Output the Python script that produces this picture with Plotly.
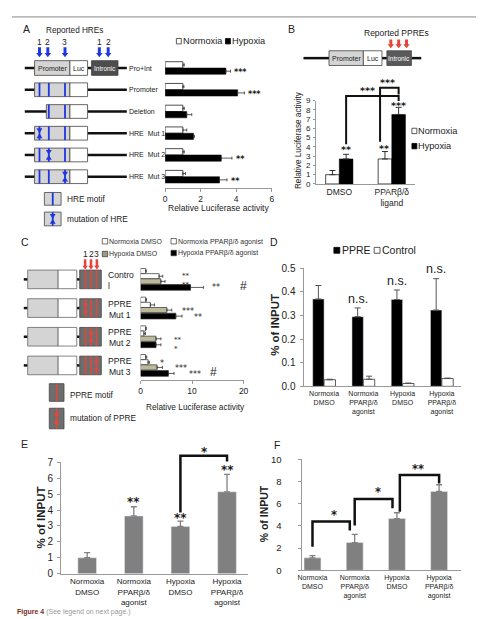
import plotly.graph_objects as go

W, H = 484, 619
FONT = "Liberation Sans, Arial, Helvetica, sans-serif"
STAR_FONT = "DejaVu Sans, Liberation Sans, sans-serif"

# ---------------- data ----------------
a_constructs = ["Pro+Int", "Promoter", "Deletion", "HRE  Mut 1", "HRE  Mut 2", "HRE  Mut 3"]
a_normoxia = [1.0, 1.0, 1.0, 1.0, 1.0, 1.0]
a_normoxia_err = [0.08, 0.06, 0.08, 0.22, 0.08, 0.15]
a_hypoxia = [3.42, 4.08, 1.22, 1.6, 3.16, 3.06]
a_hypoxia_err = [0.26, 0.38, 0.28, 0.05, 0.6, 0.42]
a_sig = ["***", "***", "", "", "**", "**"]
a_ticks = [0, 2, 4, 6]

b_treatments = ["DMSO", "PPARβ/δ<br>ligand"]
b_normoxia = [1.0, 2.7]
b_normoxia_err = [0.45, 0.8]
b_hypoxia = [2.7, 7.5]
b_hypoxia_err = [0.5, 0.77]
b_sig_normoxia = ["", "**"]
b_sig_hypoxia = ["**", "***"]
b_ticks = list(range(10))

c_constructs = ["Control", "PPRE Mut 1", "PPRE Mut 2", "PPRE Mut 3"]
c_labels = ["Contro<br>l", "PPRE<br>Mut 1", "PPRE<br>Mut 2", "PPRE<br>Mut 3"]
c_norm_dmso = [1.0, 1.0, 1.0, 1.0]
c_norm_dmso_err = [0.1, 0.15, 0.1, 0.2]
c_norm_ago = [3.6, 1.9, 0.65, 1.45]
c_norm_ago_err = [0.7, 0.8, 0.3, 0.3]
c_hyp_dmso = [3.95, 5.1, 3.0, 3.2]
c_hyp_dmso_err = [0.8, 0.95, 0.95, 1.05]
c_hyp_ago = [9.7, 6.85, 3.0, 5.4]
c_hyp_ago_err = [2.5, 1.2, 0.95, 1.1]
c_ticks = [0, 10, 20]

d_groups = ["Normoxia<br>DMSO", "Normoxia<br>PPARβ/δ<br>agonist", "Hypoxia<br>DMSO", "Hypoxia<br>PPARβ/δ<br>agonist"]
d_ppre = [0.37, 0.295, 0.368, 0.323]
d_ppre_err = [0.057, 0.037, 0.04, 0.133]
d_control = [0.028, 0.03, 0.012, 0.033]
d_control_err = [0.002, 0.013, 0.002, 0.002]
d_sig = ["", "n.s.", "n.s.", "n.s."]
d_ticks = [0, 0.1, 0.2, 0.3, 0.4, 0.5]

e_groups = d_groups
e_values = [1.0, 3.63, 2.97, 5.15]
e_err = [0.32, 0.58, 0.33, 1.1]
e_sig = ["", "**", "**", "**"]
e_ticks = list(range(8))

f_groups = d_groups
f_values = [1.12, 2.5, 4.66, 7.1]
f_err = [0.2, 0.74, 0.52, 0.6]
f_ticks = [0, 2, 4, 6, 8, 10]

# ---------------- geometry helpers ----------------
def X(px):
    return px / W

def Y(py):
    return 1 - py / H

GEO = {
    "A": dict(x=(156, 264.7), y=(44, 177), xr=(0, 6), yr=(-0.5, 5.5)),
    "B": dict(x=(309.7, 410.8), y=(88.3, 173.3), xr=(-0.445, 1.445), yr=(0, 9)),
    "C": dict(x=(131, 236), y=(256, 373), xr=(0, 20), yr=(-0.5, 3.5)),
    "D": dict(x=(298, 458), y=(259.3, 379.7), xr=(-0.5, 3.5), yr=(0, 0.5)),
    "E": dict(x=(50, 240), y=(457.3, 570.7), xr=(-0.56, 3.44), yr=(0, 7)),
    "F": dict(x=(295, 458), y=(454, 567.3), xr=(-0.26, 3.53), yr=(0, 10)),
}

def gx(p, v):
    (a, b), (r0, r1) = GEO[p]["x"], GEO[p]["xr"]
    return a + (v - r0) / (r1 - r0) * (b - a)

def gy(p, v):
    (t, bt), (r0, r1) = GEO[p]["y"], GEO[p]["yr"]
    return bt - (v - r0) / (r1 - r0) * (bt - t)

shapes, annotations = [], []

def txt(x, y, s, size=8, xa="center", ya="middle", color="#222", angle=0, align="center", family=FONT):
    annotations.append(dict(x=X(x), y=Y(y), xref="paper", yref="paper", text=s,
                            showarrow=False, xanchor=xa, yanchor=ya, align=align,
                            textangle=angle, borderpad=0,
                            font=dict(size=size, color=color, family=family)))

def star(x, yv, s, size=9, xa="center", align="center", bold=True):
    # yv = visual centre of the (first line of) asterisks
    nlines = s.count("<br>") + 1
    mid = yv + 0.25 * size + (nlines - 1) * 0.65 * size
    t = f"<b>{s}</b>" if bold else s
    txt(x, mid, t, size=size, xa=xa, color="#1a1a1a", family=STAR_FONT, align=align)

def rect(x0, y0, x1, y1, fill, line="#444", lw=0.8):
    shapes.append(dict(type="rect", xref="paper", yref="paper", x0=X(x0), x1=X(x1),
                       y0=Y(y1), y1=Y(y0), fillcolor=fill, line=dict(color=line, width=lw),
                       layer="above"))

def seg(x0, y0, x1, y1, color="#111", lw=2.5):
    shapes.append(dict(type="line", xref="paper", yref="paper", x0=X(x0), x1=X(x1),
                       y0=Y(y0), y1=Y(y1), line=dict(color=color, width=lw), layer="above"))

def poly(pts, fill, closed=True, lw=0, color=None):
    d = "M " + " L ".join(f"{X(a):.5f},{Y(b):.5f}" for a, b in pts) + (" Z" if closed else "")
    shapes.append(dict(type="path", xref="paper", yref="paper", path=d,
                       fillcolor=fill if closed else "rgba(0,0,0,0)",
                       line=dict(color=color or fill, width=lw), layer="above"))

def down_arrow(x, y0, y1, color, sw=1.5, hw=3.3, hh=4.2):
    poly([(x - sw, y0), (x + sw, y0), (x + sw, y1 - hh), (x + hw, y1 - hh), (x, y1),
          (x - hw, y1 - hh), (x - sw, y1 - hh)], color)

def bowtie(x, yc, color, hw=3.0, hh=5.0):
    poly([(x - hw, yc - hh), (x + hw, yc - hh), (x - hw, yc + hh), (x + hw, yc + hh)], color)

def bracket(xa, ya, xb, yb, ytop, lw=2.5):
    poly([(xa, ya), (xa, ytop), (xb, ytop), (xb, yb)], None, closed=False, lw=lw, color="#111")

BLUE = "#1f36e0"
RED = "#e5463b"
LGRAY = "#d4d4d4"

# ---------------- traces ----------------
fig = go.Figure()

def err(arr, color="#333", th=0.8, w=1.5):
    return dict(type="data", array=arr, arrayminus=[0] * len(arr), symmetric=False,
                color=color, thickness=th, width=w)

# A
fig.add_bar(y=a_constructs, x=a_normoxia, orientation="h", xaxis="x", yaxis="y",
            width=0.29, offset=0.0, marker=dict(color="white", line=dict(color="#222", width=0.8)),
            error_x=err(a_normoxia_err), name="Normoxia")
fig.add_bar(y=a_constructs, x=a_hypoxia, orientation="h", xaxis="x", yaxis="y",
            width=0.29, offset=-0.29, marker=dict(color="black", line=dict(color="#000", width=0.5)),
            error_x=err(a_hypoxia_err), name="Hypoxia")
# B
BW = 0.26
fig.add_bar(x=b_treatments, y=b_normoxia, xaxis="x2", yaxis="y2", width=BW, offset=-BW,
            marker=dict(color="white", line=dict(color="#222", width=0.8)),
            error_y=err(b_normoxia_err, th=1, w=3), name="Normoxia")
fig.add_bar(x=b_treatments, y=b_hypoxia, xaxis="x2", yaxis="y2", width=BW, offset=0.0,
            marker=dict(color="black", line=dict(color="#000", width=0.5)),
            error_y=err(b_hypoxia_err, th=1, w=3), name="Hypoxia")
# C
c_series = [
    (c_norm_dmso, c_norm_dmso_err, "white", 0.20, 0.18, "Normoxia DMSO"),
    (c_norm_ago, c_norm_ago_err, "white", 0.02, 0.18, "Normoxia PPARβ/δ agonist"),
    (c_hyp_dmso, c_hyp_dmso_err, "#bdb99c", -0.16, 0.18, "Hypoxia DMSO"),
    (c_hyp_ago, c_hyp_ago_err, "black", -0.38, 0.20, "Hypoxia PPARβ/δ agonist"),
]
for vals, errs, col, off, wd, nm in c_series:
    fig.add_bar(y=c_constructs, x=vals, orientation="h", xaxis="x3", yaxis="y3", width=wd,
                offset=off, marker=dict(color=col, line=dict(color="#333", width=0.7)),
                error_x=err(errs), name=nm)
# D
fig.add_bar(x=d_groups, y=d_ppre, xaxis="x4", yaxis="y4", width=0.29, offset=-0.29,
            marker=dict(color="black"), error_y=err(d_ppre_err, "#555", 1, 3), name="PPRE")
fig.add_bar(x=d_groups, y=d_control, xaxis="x4", yaxis="y4", width=0.29, offset=0.0,
            marker=dict(color="white", line=dict(color="#333", width=0.8)),
            error_y=err(d_control_err, "#555", 1, 3), name="Control")
# E, F
fig.add_bar(x=e_groups, y=e_values, xaxis="x5", yaxis="y5", width=0.4, offset=-0.2,
            marker=dict(color="#808080"), error_y=err(e_err, "#808080", 1.3, 3))
fig.add_bar(x=f_groups, y=f_values, xaxis="x6", yaxis="y6", width=0.4, offset=-0.2,
            marker=dict(color="#808080"), error_y=err(f_err, "#808080", 1.3, 3))

# ---------------- axes ----------------
def dom_x(p):
    return [X(GEO[p]["x"][0]), X(GEO[p]["x"][1])]

def dom_y(p):
    return [Y(GEO[p]["y"][1]), Y(GEO[p]["y"][0])]

def tf(size):
    return dict(size=size, color="#222", family=FONT)

base = dict(showgrid=False, zeroline=False, linecolor="#999", linewidth=1, tickcolor="#999")
lay = {}
# A
lay["xaxis"] = dict(base, domain=dom_x("A"), range=list(GEO["A"]["xr"]), anchor="y", showline=True,
                    ticks="outside", ticklen=3, tickvals=a_ticks, tickfont=tf(8.5))
lay["yaxis"] = dict(base, domain=dom_y("A"), type="category", categoryorder="array",
                    categoryarray=a_constructs[::-1], range=list(GEO["A"]["yr"]), anchor="x",
                    showline=False, showticklabels=False)
# B
lay["xaxis2"] = dict(base, domain=dom_x("B"), type="category", range=list(GEO["B"]["xr"]),
                     anchor="y2", showline=True, ticks="", tickfont=tf(8.5))
lay["yaxis2"] = dict(base, domain=dom_y("B"), range=list(GEO["B"]["yr"]), anchor="x2", showline=True,
                     ticks="outside", ticklen=2, tickvals=b_ticks, ticklabelstandoff=1,
                     tickfont=tf(8))
# C
lay["xaxis3"] = dict(base, domain=dom_x("C"), range=list(GEO["C"]["xr"]), anchor="y3", showline=True,
                     ticks="outside", ticklen=3, tickvals=c_ticks, tickfont=tf(8.5))
lay["yaxis3"] = dict(base, domain=dom_y("C"), type="category", categoryorder="array",
                     categoryarray=c_constructs[::-1], range=list(GEO["C"]["yr"]), anchor="x3",
                     showline=False, showticklabels=False)
# D
lay["xaxis4"] = dict(base, domain=dom_x("D"), type="category", range=list(GEO["D"]["xr"]),
                     anchor="y4", showline=True, ticks="", tickfont=tf(7))
lay["yaxis4"] = dict(base, domain=dom_y("D"), range=list(GEO["D"]["yr"]), anchor="x4", showline=True,
                     ticks="outside", ticklen=3, tickvals=d_ticks, tickformat=".1f",
                     ticklabelstandoff=3, tickfont=tf(10))
# E
lay["xaxis5"] = dict(base, domain=dom_x("E"), type="category", range=list(GEO["E"]["xr"]),
                     anchor="y5", showline=True, ticks="", tickfont=tf(8))
lay["yaxis5"] = dict(base, domain=dom_y("E"), range=list(GEO["E"]["yr"]), anchor="x5", showline=True,
                     ticks="outside", ticklen=3, tickvals=e_ticks, ticklabelstandoff=2,
                     tickfont=tf(10))
# F
lay["xaxis6"] = dict(base, domain=dom_x("F"), type="category", range=list(GEO["F"]["xr"]),
                     anchor="y6", showline=True, ticks="", tickfont=tf(7))
lay["yaxis6"] = dict(base, domain=dom_y("F"), range=list(GEO["F"]["yr"]), anchor="x6", showline=True,
                     ticks="outside", ticklen=3, tickvals=f_ticks, ticklabelstandoff=14,
                     tickfont=tf(9.5))

# ---------------- frame & panel letters ----------------
poly([(0, 3), (474, 3), (478, 3.5), (480.5, 6), (481, 10), (481, 619)], None, closed=False,
     lw=1, color="#888")
for letter, (lx, ly) in {"A": (15, 15), "B": (285, 15), "C": (13, 232), "D": (267, 232),
                         "E": (13, 438), "F": (270, 440)}.items():
    txt(lx, ly, letter, size=10.5)

# ---------------- panel A diagram ----------------
txt(64, 17, "Reported HREs", size=8.2)
for n, x in zip(["1", "2", "3", "1", "2"], [28, 36.5, 54, 89, 98]):
    txt(x, 28.5, n, size=8.5)
    down_arrow(x, 34, 44, BLUE)

a_rows = [gy("A", len(a_constructs) - 1 - i) for i in range(len(a_constructs))]
motifs = [28, 37.5, 54]
for i, yc in enumerate(a_rows):
    h = 7.5 if i == 0 else 7
    if i == 0:
        seg(13, yc, 23, yc); seg(77, yc, 81, yc); seg(108, yc, 117, yc)
        rect(23, yc - h, 59, yc + h, LGRAY)
        rect(59, yc - h, 77, yc + h, "white")
        rect(81, yc - h, 108, yc + h, "#4d4d4d")
        txt(41, yc, "Promoter", size=7)
        txt(68, yc, "Luc", size=7)
        txt(94.5, yc, "Intronic", size=6.5, color="white")
    else:
        start = 35 if i == 2 else 23
        seg(13, yc, start, yc); seg(77, yc, 117, yc)
        rect(start, yc - h, 59, yc + h, LGRAY)
        rect(59, yc - h, 77, yc + h, "white")
        for m in motifs:
            if m > start:
                seg(m, yc - h, m, yc + h, BLUE, 1.8)
        if i >= 3:
            bowtie(motifs[i - 3], yc, BLUE)
    txt(118, yc, a_constructs[i], size=7, xa="left")

rect(33, 182, 50, 195, LGRAY); seg(41.5, 182, 41.5, 195, BLUE, 1.8)
txt(55, 189, "HRE motif", size=8.3, xa="left")
rect(33, 202, 50, 216, LGRAY); seg(41.5, 202, 41.5, 216, BLUE, 1.8); bowtie(41.5, 209, BLUE)
txt(55, 209, "mutation of HRE", size=8.3, xa="left")

# A legend + stars + axis title
rect(167.5, 25, 172.5, 30.5, "white", "#333"); txt(173, 28, "Normoxia", size=9.2, xa="left")
rect(217.5, 25, 222.5, 30.5, "black", "#000"); txt(223, 28, "Hypoxia", size=9.2, xa="left")
for i, s in enumerate(a_sig):
    if s:
        star(gx("A", a_hypoxia[i] + a_hypoxia_err[i]) + 3, a_rows[i] + 3, s, size=8, xa="left")
txt(210, 198, "Relative Luciferase activity", size=8.5)

# ---------------- panel B ----------------
txt(392, 19, "Reported PPREs", size=8.5)
for x in [386, 394, 402]:
    down_arrow(x, 26, 35, RED)
seg(297, 45, 323, 45); seg(377, 45, 382, 45); seg(407, 45, 417, 45)
rect(323, 37.5, 358, 52.5, LGRAY); rect(358, 37.5, 377, 52.5, "white"); rect(382, 37.5, 407, 52.5, "#5a5a5a")
txt(340.5, 45, "Promoter", size=7); txt(367.5, 45, "Luc", size=7)
txt(394.5, 45, "Intronic", size=6.5, color="white")

b_cx = [[gx("B", j - BW / 2) for j in range(2)], [gx("B", j + BW / 2) for j in range(2)]]
b_top_n = [gy("B", v + e) for v, e in zip(b_normoxia, b_normoxia_err)]
b_top_h = [gy("B", v + e) for v, e in zip(b_hypoxia, b_hypoxia_err)]
b_off_n = [0, 5.0]
b_off_h = [7.0, 4.2]
for j in range(2):
    if b_sig_normoxia[j]:
        star(b_cx[0][j] - 1, b_top_n[j] - b_off_n[j], b_sig_normoxia[j], size=9.5)
    if b_sig_hypoxia[j]:
        star(b_cx[1][j], b_top_h[j] - b_off_h[j], b_sig_hypoxia[j], size=9.5)
# long bracket: DMSO hypoxia -> ligand hypoxia
bracket(b_cx[1][0], b_top_h[0] - 10.3, b_cx[1][1], b_top_h[1] - 6.6, b_top_h[1] - 11.6, lw=2)
# short bracket: ligand normoxia -> ligand hypoxia
bracket(b_cx[0][1] - 5, b_top_n[1] - 10, b_cx[1][1], b_top_h[1] - 13.2, b_top_h[1] - 19.9, lw=2)
star(362, b_top_h[1] - 19.2, "***", size=9.5)
star(383, b_top_h[1] - 27.6, "***", size=9.5)
rect(407.5, 116.5, 412.5, 122, "white", "#333"); txt(413, 119.5, "Normoxia", size=9.2, xa="left")
rect(407.5, 132, 412.5, 137.5, "black", "#000"); txt(413, 135, "Hypoxia", size=9.2, xa="left")
txt(292, 129, "Relative Luciferase activity", size=8.2, angle=-90)

# ---------------- panel C ----------------
leg_c = [(92, 232, "white", c_series[0][5]), (162, 232, "white", c_series[1][5]),
         (92, 245, "#9c9984", c_series[2][5]), (162, 244, "black", c_series[3][5])]
for lx, ly, col, nm in leg_c:
    rect(lx, ly - 3, lx + 5.5, ly + 2.5, col, "#333", 0.7)
    txt(lx + 6, ly, nm, size=7, xa="left", color="#333")
for n, x in zip(["1", "2", "3"], [74.5, 80.5, 86.5]):
    txt(x, 245, n, size=8.5)
    down_arrow(x, 250, 260.5, RED, sw=1.3, hw=2.8, hh=3.8)
c_rows = [gy("C", len(c_constructs) - 1 - i) for i in range(len(c_constructs))]
c_motifs = [75, 80.5, 86]
for i, yc in enumerate(c_rows):
    h = 9.5
    seg(12, yc, 16, yc); seg(66, yc, 69, yc)
    rect(16, yc - h, 47, yc + h, LGRAY, "#666")
    rect(47, yc - h, 66, yc + h, "white", "#666")
    rect(69, yc - h, 91, yc + h, "#6e6e6e", "#444")
    for m in c_motifs:
        seg(m, yc - h, m, yc + h, RED, 1.5)
    if i >= 1:
        bowtie(c_motifs[i - 1], yc, RED, hw=2.8, hh=5)
    if i == 0:
        txt(97, yc + 1, c_labels[i], size=8.6, xa="left", align="left")
    else:
        txt(110, yc + 1, c_labels[i], size=8.6)
rect(38, 377, 53, 395, "#6e6e6e", "#444"); seg(45.5, 377, 45.5, 395, RED, 1.5)
txt(58, 389, "PPRE motif", size=8.3, xa="left")
rect(38, 402, 53, 423, "#6e6e6e", "#444"); seg(45.5, 402, 45.5, 423, RED, 1.5); bowtie(45.5, 412.5, RED)
txt(58, 412, "mutation of PPRE", size=8.3, xa="left")
txt(187, 400.5, "Relative Luciferase activity", size=8.3)
# C significance marks: (row, text, left x px, dy of first line from row centre)
c_marks = [
    (0, "**<br>**", 172, -5.5), (0, "**", 203, 6.5), (0, "#", 231, 7),
    (1, "***", 172, 1), (1, "**", 184, 7.5),
    (2, "**<br>*", 164, 1.5),
    (3, "*", 150, -3.5), (3, "***", 165, 1.5), (3, "***", 179, 7), (3, "#", 201, 7),
]
for r, s, lx, dy in c_marks:
    if s == "#":
        txt(lx, c_rows[r] + dy, s, size=12, xa="left")
    elif "<br>" in s:
        star(lx, c_rows[r] + dy, s, size=7, xa="left", align="left", bold=False)
    else:
        star(lx, c_rows[r] + dy, s, size=8, xa="left", bold=False)

# ---------------- panel D ----------------
rect(328, 238, 334, 244, "black", "#000"); txt(335, 241, "PPRE", size=10.5, xa="left")
rect(369, 238, 375, 244, "white", "#333"); txt(376, 241, "Control", size=10.5, xa="left")
for j, s in enumerate(d_sig):
    if s:
        txt(gx("D", j - 0.145), gy("D", d_ppre[j] + d_ppre_err[j]) - 9.5, s, size=12.5)
txt(268, 317, "<b>% of INPUT</b>", size=11.5, angle=-90)

# ---------------- panel E ----------------
e_cx = [gx("E", j) for j in range(4)]
e_top = [gy("E", v + e) for v, e in zip(e_values, e_err)]
e_off = [0, 8.2, 6.2, 7.2]
for j, s in enumerate(e_sig):
    if s:
        star(e_cx[j], e_top[j] - e_off[j], s, size=12)
bracket(e_cx[2], e_top[2] - 9, e_cx[3], e_top[3] - 13, e_top[3] - 19)
star((e_cx[2] + e_cx[3]) / 2 + 1, e_top[3] - 25.5, "*", size=12)
txt(30, 513, "<b>% of INPUT</b>", size=11.5, angle=-90)

# ---------------- panel F ----------------
f_cx = [gx("F", j) for j in range(4)]
f_top = [gy("F", v + e) for v, e in zip(f_values, f_err)]
bracket(f_cx[0], f_top[0] - 9, f_cx[1] - 5, f_top[1] - 4, f_top[1] - 13)
bracket(f_cx[1], f_top[1] - 9, f_cx[2] - 4.5, f_top[2] - 4.6, f_top[2] - 14)
bracket(f_cx[2] + 3, f_top[2] - 1, f_cx[3], f_top[3] - 1.3, f_top[3] - 10)
star((f_cx[0] + f_cx[1]) / 2, f_top[1] - 23, "*", size=11.5)
star((f_cx[1] + f_cx[2]) / 2 + 2, f_top[2] - 23.6, "*", size=11.5)
star((f_cx[2] + f_cx[3]) / 2, f_top[3] - 19, "**", size=11.5)
txt(257, 510, "<b>% of INPUT</b>", size=10.5, angle=-90)

# footer
txt(4, 610, "<b><span style='color:#7a2b22'>Figure 4</span></b> "
            "<span style='color:#999'>(See legend on next page.)</span>", size=7, xa="left")

fig.update_layout(
    width=W, height=H, margin=dict(l=0, r=0, t=0, b=0),
    paper_bgcolor="white", plot_bgcolor="white", showlegend=False, barmode="group",
    font=dict(family=FONT, color="#222"),
    shapes=shapes, annotations=annotations, **lay,
)
fig.write_html("out.html")
